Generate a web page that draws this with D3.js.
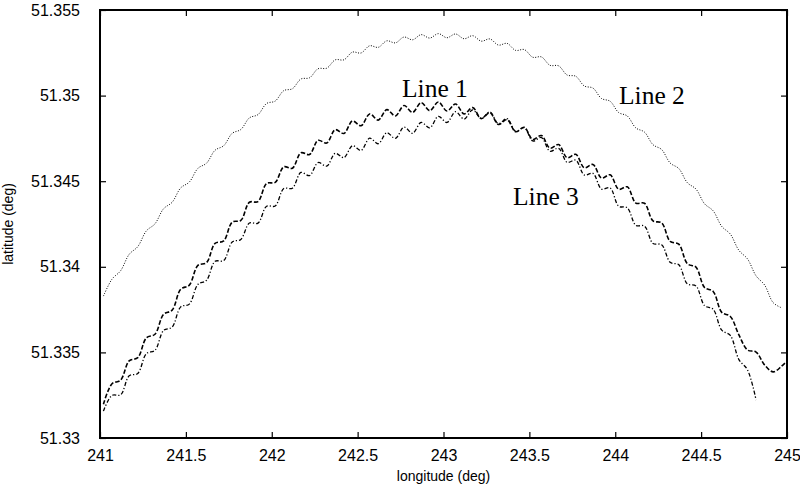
<!DOCTYPE html>
<html><head><meta charset="utf-8">
<script src="https://cdn.jsdelivr.net/npm/d3@7"></script>
<style>
html,body{margin:0;padding:0;background:#fff;}
svg{display:block;}
</style></head>
<body><svg id="chart" width="800" height="489"></svg>
<script>
const xTicks = [241, 241.5, 242, 242.5, 243, 243.5, 244, 244.5, 245];
const xTickLabels = ["241","241.5","242","242.5","243","243.5","244","244.5","245"];
const yTicks = [51.33, 51.335, 51.34, 51.345, 51.35, 51.355];
const yTickLabels = ["51.33","51.335","51.34","51.345","51.35","51.355"];

const seriesNames = ["Line 1", "Line 2", "Line 3"];

const lon2 = [241.02,241.07,241.12,241.17,241.22,241.27,241.32,241.37,241.42,241.47,
241.52,241.57,241.62,241.67,241.72,241.77,241.82,241.87,241.92,241.97,
242.02,242.07,242.12,242.17,242.22,242.27,242.32,242.37,242.42,242.47,
242.52,242.57,242.62,242.67,242.72,242.77,242.82,242.87,242.92,242.97,
243.02,243.07,243.12,243.17,243.22,243.27,243.32,243.37,243.42,243.47,
243.52,243.57,243.62,243.67,243.72,243.77,243.82,243.87,243.92,243.97,
244.02,244.07,244.12,244.17,244.22,244.27,244.32,244.37,244.42,244.47,
244.52,244.57,244.62,244.67,244.72,244.77,244.82,244.87,244.92,244.97];
const lat2 = [51.33829,51.33928,51.33977,51.34073,51.34118,51.34210,51.34251,51.34339,51.34377,51.34461,
51.34495,51.34575,51.34605,51.34681,51.34707,51.34780,51.34802,51.34870,51.34889,51.34954,
51.34968,51.35029,51.35040,51.35097,51.35104,51.35157,51.35160,51.35209,51.35209,51.35254,
51.35249,51.35291,51.35282,51.35320,51.35308,51.35342,51.35326,51.35356,51.35336,51.35362,
51.35338,51.35360,51.35332,51.35350,51.35318,51.35331,51.35295,51.35305,51.35264,51.35269,
51.35224,51.35226,51.35177,51.35174,51.35120,51.35113,51.35056,51.35044,51.34983,51.34967,
51.34901,51.34881,51.34811,51.34787,51.34713,51.34685,51.34606,51.34574,51.34491,51.34454,
51.34368,51.34327,51.34236,51.34191,51.34096,51.34046,51.33947,51.33893,51.33790,51.33760];

const lon1 = [241.02,241.07,241.12,241.17,241.22,241.27,241.32,241.37,241.42,241.47,
241.52,241.57,241.62,241.67,241.72,241.77,241.82,241.87,241.92,241.97,
242.02,242.07,242.12,242.17,242.22,242.27,242.32,242.37,242.42,242.47,
242.52,242.57,242.62,242.67,242.72,242.77,242.82,242.87,242.92,242.97,
243.02,243.07,243.12,243.17,243.22,243.27,243.32,243.37,243.42,243.47,
243.52,243.57,243.62,243.67,243.72,243.77,243.82,243.87,243.92,243.97,
244.02,244.07,244.12,244.17,244.22,244.27,244.32,244.37,244.42,244.47,
244.52,244.57,244.62,244.67,244.72,244.77,244.82,244.87,244.92,244.97,
245.00];
const lat1 = [51.33197,51.33317,51.33338,51.33451,51.33469,51.33585,51.33606,51.33722,51.33747,51.33869,
51.33893,51.34008,51.34024,51.34137,51.34151,51.34261,51.34271,51.34377,51.34381,51.34487,
51.34493,51.34584,51.34576,51.34666,51.34656,51.34739,51.34723,51.34801,51.34779,51.34852,
51.34824,51.34893,51.34857,51.34918,51.34881,51.34942,51.34902,51.34959,51.34912,51.34963,
51.34910,51.34951,51.34893,51.34930,51.34866,51.34900,51.34831,51.34860,51.34789,51.34815,
51.34743,51.34767,51.34693,51.34714,51.34637,51.34657,51.34578,51.34598,51.34518,51.34537,
51.34453,51.34467,51.34372,51.34371,51.34268,51.34257,51.34148,51.34132,51.34018,51.33998,
51.33879,51.33856,51.33734,51.33710,51.33602,51.33514,51.33502,51.33426,51.33386,51.33421,
51.33450];

const lon3 = [241.02,241.07,241.12,241.17,241.22,241.27,241.32,241.37,241.42,241.47,
241.52,241.57,241.62,241.67,241.72,241.77,241.82,241.87,241.92,241.97,
242.02,242.07,242.12,242.17,242.22,242.27,242.32,242.37,242.42,242.47,
242.52,242.57,242.62,242.67,242.72,242.77,242.82,242.87,242.92,242.97,
243.02,243.07,243.12,243.17,243.22,243.27,243.32,243.37,243.42,243.47,
243.52,243.57,243.62,243.67,243.72,243.77,243.82,243.87,243.92,243.97,
244.02,244.07,244.12,244.17,244.22,244.27,244.32,244.37,244.42,244.47,
244.52,244.57,244.62,244.67,244.72,244.77,244.82];
const lat3 = [51.33157,51.33249,51.33252,51.33363,51.33377,51.33493,51.33512,51.33628,51.33648,51.33766,
51.33782,51.33897,51.33921,51.34032,51.34036,51.34145,51.34160,51.34256,51.34255,51.34354,
51.34355,51.34457,51.34459,51.34551,51.34533,51.34609,51.34588,51.34663,51.34638,51.34707,
51.34680,51.34751,51.34719,51.34783,51.34750,51.34816,51.34780,51.34843,51.34812,51.34879,
51.34843,51.34906,51.34863,51.34917,51.34866,51.34905,51.34836,51.34866,51.34791,51.34813,
51.34735,51.34755,51.34675,51.34692,51.34610,51.34623,51.34536,51.34546,51.34454,51.34461,
51.34354,51.34345,51.34242,51.34238,51.34136,51.34129,51.34026,51.34012,51.33900,51.33888,
51.33773,51.33752,51.33630,51.33599,51.33458,51.33398,51.33222];

(function(){
const svg = d3.select("#chart");
const L = 100, R = 787, T = 10, B = 438;
const x = d3.scaleLinear().domain([241, 245]).range([L, R]);
const y = d3.scaleLinear().domain([51.33, 51.355]).range([B, T]);

const sans = "'Liberation Sans', Arial, Helvetica, sans-serif";
const serif = "'Liberation Serif', 'Times New Roman', Times, serif";

svg.append("defs").append("clipPath").attr("id","clip")
  .append("rect").attr("x",L).attr("y",T).attr("width",R-L).attr("height",B-T);

const ax = svg.append("g").attr("class","axes");
const axB = d3.axisBottom(x).tickValues(xTicks).tickSize(-6).tickFormat((d,i)=>xTickLabels[i]).tickPadding(12);
const axT = d3.axisTop(x).tickValues(xTicks).tickSize(-6).tickFormat("");
const axL = d3.axisLeft(y).tickValues(yTicks).tickSize(-6).tickFormat((d,i)=>yTickLabels[i]).tickPadding(20);
const axR = d3.axisRight(y).tickValues(yTicks).tickSize(-6).tickFormat("");

const gB = ax.append("g").attr("transform",`translate(0,${B})`).call(axB);
const gT = ax.append("g").attr("transform",`translate(0,${T})`).call(axT);
const gL = ax.append("g").attr("transform",`translate(${L},0)`).call(axL);
const gR = ax.append("g").attr("transform",`translate(${R},0)`).call(axR);
[gB,gT,gL,gR].forEach(g=>{
  g.select(".domain").remove();
  g.selectAll(".tick line").attr("stroke","#000").attr("stroke-width",1.2);
  g.selectAll("text").attr("fill","#000").style("font-family",sans).style("font-size","16px");
});

svg.append("rect").attr("x",L).attr("y",T).attr("width",R-L).attr("height",B-T)
  .attr("fill","none").attr("stroke","#000").attr("stroke-width",2);

const line = d3.line().x(d=>x(d[0])).y(d=>y(d[1])).curve(d3.curveCatmullRom.alpha(0.5));
const plot = svg.append("g").attr("clip-path","url(#clip)");
const data2 = lon2.map((v,i)=>[v, lat2[i]]);
const data1 = lon1.map((v,i)=>[v, lat1[i]]);
const data3 = lon3.map((v,i)=>[v, lat3[i]]);

plot.append("path").datum(data2).attr("d",line).attr("fill","none")
  .attr("stroke","#000").attr("stroke-width",1).attr("stroke-dasharray","1,1.6");
plot.append("path").datum(data3).attr("d",line).attr("fill","none")
  .attr("stroke","#000").attr("stroke-width",1.3).attr("stroke-dasharray","4,2,1.2,2");
plot.append("path").datum(data1).attr("d",line).attr("fill","none")
  .attr("stroke","#000").attr("stroke-width",1.6).attr("stroke-dasharray","4.5,2");

const labels = [
  {t: seriesNames[0], x: 402, y: 97},
  {t: seriesNames[1], x: 619, y: 104},
  {t: seriesNames[2], x: 513, y: 205}
];
svg.selectAll("text.lbl").data(labels).join("text").attr("class","lbl")
  .attr("x",d=>d.x).attr("y",d=>d.y).text(d=>d.t)
  .style("font-family",serif).style("font-size","25.5px").attr("fill","#000");

svg.append("text").attr("x",(L+R)/2).attr("y",481).attr("text-anchor","middle")
  .style("font-family",sans).style("font-size","14px").text("longitude (deg)");
svg.append("text").attr("transform",`translate(13,${(T+B)/2}) rotate(-90)`).attr("text-anchor","middle")
  .style("font-family",sans).style("font-size","14px").text("latitude (deg)");
})();
</script>
</body></html>
